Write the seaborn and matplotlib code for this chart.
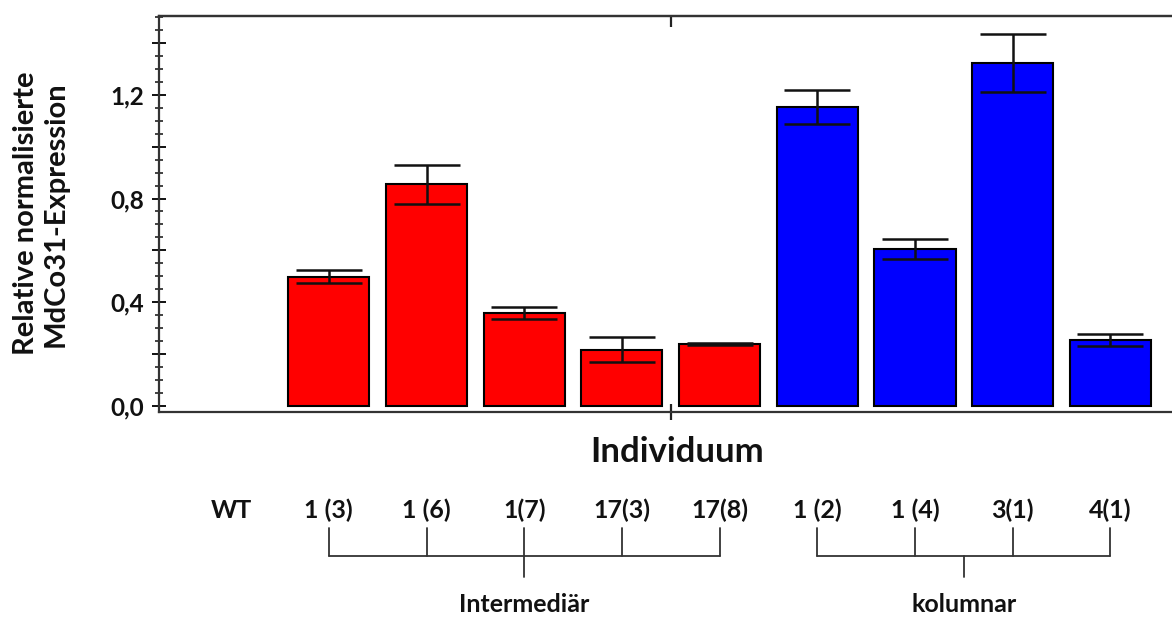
import numpy as np
import pandas as pd
import matplotlib.pyplot as plt
import matplotlib.transforms as mtransforms
from matplotlib.ticker import FixedLocator, MultipleLocator
import seaborn as sns

# values
labels = ["WT", "1 (3)", "1 (6)", "1(7)", "17(3)", "17(8)", "1 (2)", "1 (4)", "3(1)", "4(1)"]
groups = ["WT", "Intermediär", "Intermediär", "Intermediär", "Intermediär", "Intermediär",
          "kolumnar", "kolumnar", "kolumnar", "kolumnar"]
expression = [np.nan, 0.498, 0.855, 0.358, 0.217, 0.239, 1.152, 0.605, 1.324, 0.253]
errors = [np.nan, 0.025, 0.076, 0.024, 0.048, 0.005, 0.066, 0.037, 0.111, 0.024]
ytick_labels = ["0,0", "", "0,4", "", "0,8", "", "1,2", ""]

df = pd.DataFrame({"Individuum": labels, "Gruppe": groups, "Expression": expression})

sns.set_style("ticks")
plt.rcParams["font.family"] = ["Lato", "DejaVu Sans"]
plt.rcParams["font.weight"] = "bold"

fig = plt.figure(figsize=(11.72, 6.17), dpi=100)
ax = fig.add_axes([159 / 1172, 205.3 / 617, 1023.5 / 1172, 396 / 617])

palette = {"WT": "#888888", "Intermediär": "#FF0000", "kolumnar": "#0000FF"}
sns.barplot(data=df, x="Individuum", y="Expression", hue="Gruppe", order=labels,
            palette=palette, dodge=False, saturation=1, width=0.83,
            edgecolor="black", linewidth=1.5, errorbar=None, legend=False, ax=ax)

# error bars (mean +/- error)
pos = np.arange(len(labels))
ax.errorbar(pos, expression, yerr=errors, fmt="none", ecolor="#111111",
            elinewidth=1.8, capsize=23.8, capthick=1.8, zorder=5)

ax.set_xlim(-0.738, 9.738)
ax.set_ylim(-0.023, 1.506)

# y ticks
ax.yaxis.set_major_locator(FixedLocator(np.arange(0, 1.41, 0.2)))
ax.set_yticklabels(ytick_labels)
ax.yaxis.set_minor_locator(MultipleLocator(0.05))
ax.tick_params(axis="y", which="major", direction="inout", length=10, width=1.4,
               labelsize=17.5, pad=6, right=True, colors="#111111")
ax.tick_params(axis="y", which="minor", direction="inout", length=6, width=1.2,
               right=True, color="#222222")

# x ticks: only one tick in the middle
ax.set_xticks([4.5])
ax.set_xticklabels([""])
ax.tick_params(axis="x", direction="inout", length=12, width=1.6, color="#222222")
top = ax.secondary_xaxis("top")
top.set_xticks([4.5])
top.set_xticklabels([""])
top.tick_params(direction="in", length=8, width=1.6, color="#222222")
top.spines["top"].set_linewidth(1.6)
top.spines["top"].set_color("#333333")

for s in ax.spines.values():
    s.set_linewidth(1.6)
    s.set_color("#333333")

ax.set_xlabel("")
ax.set_ylabel("")
fig.text(41 / 1172, 1 - 213.7 / 617, "Relative normalisierte\nMdCo31-Expression",
         rotation=90, ha="center", va="center", fontsize=21, fontweight="bold",
         linespacing=1.2, color="#111111")
fig.text(677 / 1172, 1 - 452 / 617, "Individuum", ha="center", va="center",
         fontsize=25, fontweight="bold", color="#111111")

# category labels and group brackets below the axis
trans = mtransforms.blended_transform_factory(ax.transData, fig.transFigure)
for i, lab in enumerate(labels):
    ax.text(i, 1 - 510 / 617, lab, transform=trans, ha="center", va="center",
            fontsize=18, fontweight="bold", color="#111111", clip_on=False)

y_top = 1 - 528 / 617
y_mid = 1 - 556 / 617
y_drop = 1 - 577 / 617
for name in ["Intermediär", "kolumnar"]:
    idx = [i for i, g in enumerate(groups) if g == name]
    lw = 1.3
    ax.plot([idx[0], idx[-1]], [y_mid, y_mid], transform=trans, color="#333333",
            lw=lw, clip_on=False)
    for i in idx:
        ax.plot([i, i], [y_top, y_mid], transform=trans, color="#333333",
                lw=lw, clip_on=False)
    centre = (idx[0] + idx[-1]) / 2
    ax.plot([centre, centre], [y_mid, y_drop], transform=trans, color="#333333",
            lw=lw, clip_on=False)
    ax.text(centre, 1 - 604 / 617, name, transform=trans, ha="center", va="center",
            fontsize=18, fontweight="bold", color="#111111", clip_on=False)

fig.savefig("out.png", dpi=100)
